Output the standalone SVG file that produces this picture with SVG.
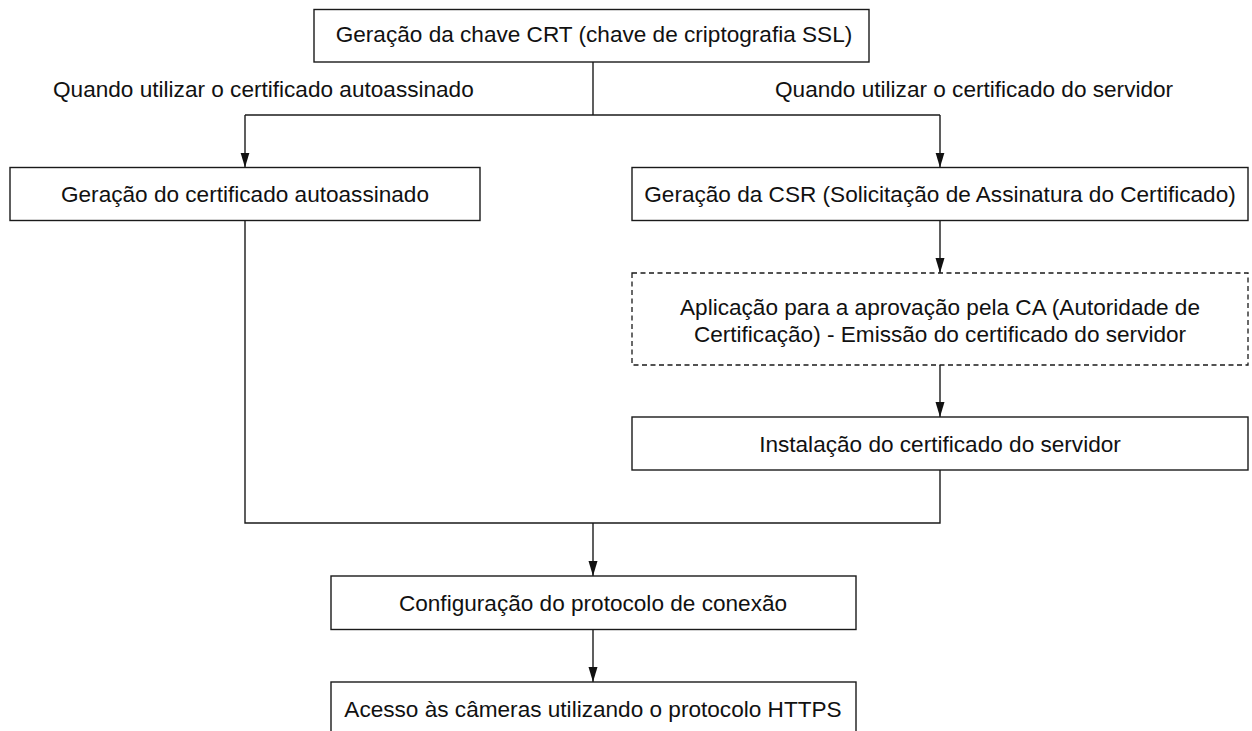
<svg xmlns="http://www.w3.org/2000/svg" width="1252" height="731" viewBox="0 0 1252 731">
<style>
.box{fill:#fff;stroke:#1a1a1a;stroke-width:1.4}
.dash{fill:#fff;stroke:#1a1a1a;stroke-width:1.3;stroke-dasharray:5 3.5}
.t{font-family:"Liberation Sans",Arial,sans-serif;font-size:22.6px;fill:#111;text-anchor:middle}
.s{text-anchor:start}
.c{fill:none;stroke:#1a1a1a;stroke-width:1.4}
</style>
<defs>
<marker id="a" markerWidth="15" markerHeight="10" refX="15" refY="5" orient="auto" markerUnits="userSpaceOnUse" viewBox="0 0 15 10">
<path d="M0,0.5 L15,5 L0,9.5 Z" fill="#111"/>
</marker>
</defs>
<rect width="1252" height="731" fill="#fff"/>
<g id="connectors">
<path class="c" d="M593,62 V115"/>
<path class="c" d="M245,115 H940"/>
<path class="c" d="M245,115 V167.5" marker-end="url(#a)"/>
<path class="c" d="M940,115 V167.5" marker-end="url(#a)"/>
<path class="c" d="M940,220.5 V273" marker-end="url(#a)"/>
<path class="c" d="M940,365 V417" marker-end="url(#a)"/>
<path class="c" d="M245,220.5 V523 H940 V470"/>
<path class="c" d="M593,523 V576" marker-end="url(#a)"/>
<path class="c" d="M593,629.5 V682" marker-end="url(#a)"/>
</g>
<g id="label-left"><text class="t s" x="53" y="97">Quando utilizar o certificado autoassinado</text></g>
<g id="label-right"><text class="t s" x="775" y="97">Quando utilizar o certificado do servidor</text></g>
<g id="n1"><rect class="box" x="314" y="9.5" width="555" height="52.5"/><text class="t" x="594" y="42">Geração da chave CRT (chave de criptografia SSL)</text></g>
<g id="n2"><rect class="box" x="10" y="167.5" width="470" height="53"/><text class="t" x="245" y="202">Geração do certificado autoassinado</text></g>
<g id="n3"><rect class="box" x="632" y="167.5" width="616" height="53"/><text class="t" x="940" y="202">Geração da CSR (Solicitação de Assinatura do Certificado)</text></g>
<g id="n4"><rect class="dash" x="632" y="273" width="616" height="92"/><text class="t" x="940" y="315">Aplicação para a aprovação pela CA (Autoridade de</text><text class="t" x="940" y="342">Certificação) - Emissão do certificado do servidor</text></g>
<g id="n5"><rect class="box" x="632" y="417" width="616" height="53"/><text class="t" x="940" y="452">Instalação do certificado do servidor</text></g>
<g id="n6"><rect class="box" x="331" y="576" width="525" height="53.5"/><text class="t" x="593" y="611">Configuração do protocolo de conexão</text></g>
<g id="n7"><rect class="box" x="331" y="682" width="525" height="60"/><text class="t" x="593" y="717">Acesso às câmeras utilizando o protocolo HTTPS</text></g>
</svg>
